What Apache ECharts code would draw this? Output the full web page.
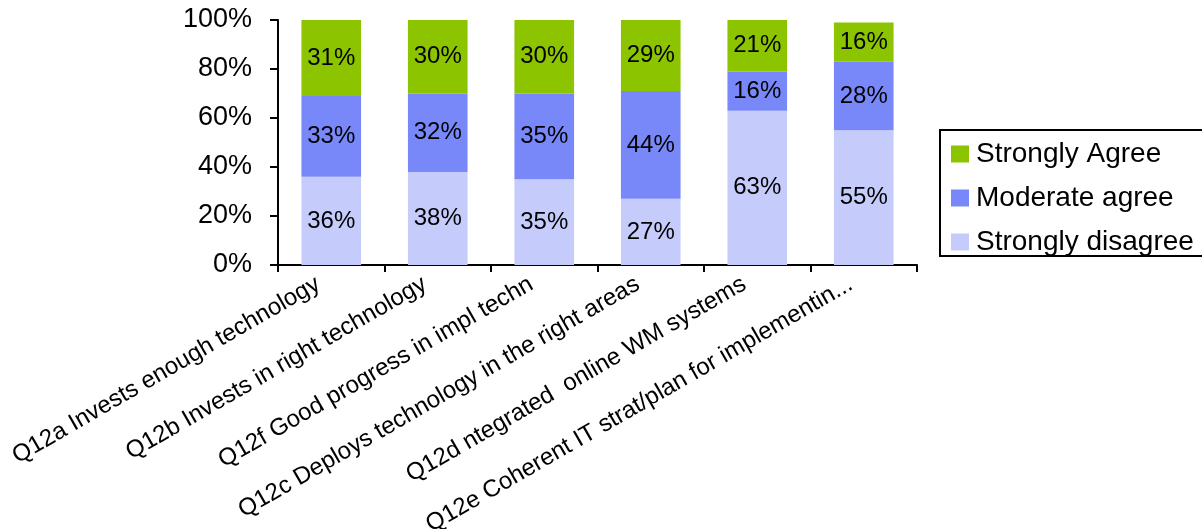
<!DOCTYPE html>
<html>
<head>
<meta charset="utf-8">
<script src="https://cdn.jsdelivr.net/npm/echarts@6/dist/echarts.min.js"></script>
<style>
  html, body { margin: 0; padding: 0; background: #fff; }
  #main { width: 1202px; height: 529px; }
</style>
</head>
<body>
<div id="main"></div>
<script>
var categories = [
  'Q12a Invests enough technology',
  'Q12b Invests in right technology',
  'Q12f Good progress in impl techn',
  'Q12c Deploys technology in the right areas',
  'Q12d ntegrated  online WM systems',
  'Q12e Coherent IT strat/plan for implementin...'
];
var disagree = [36, 38, 35, 27, 63, 55];
var moderate = [33, 32, 35, 44, 16, 28];
var agree = [31, 30, 30, 29, 21, 16];
var yTicks = [0, 20, 40, 60, 80, 100];

var chart = echarts.init(document.getElementById('main'));
var font = 'Liberation Sans, Arial, sans-serif';

function bar(name, data, color) {
  return {
    name: name,
    type: 'bar',
    stack: 'total',
    barWidth: '56%',
    data: data,
    itemStyle: { color: color },
    label: {
      show: true,
      position: 'inside',
      formatter: '{c}%',
      color: '#000',
      fontSize: 24,
      fontFamily: font
    }
  };
}

chart.setOption({
  animation: false,
  textStyle: { fontFamily: font },
  grid: { left: 278, right: 285, top: 20, bottom: 264, outerBoundsMode: 'none' },
  // legend frame runs off the right edge like the original
  graphic: [{
    type: 'rect',
    shape: { x: 940, y: 130, width: 320, height: 126 },
    style: { fill: 'none', stroke: '#000', lineWidth: 2 },
    silent: true
  }],
  legend: {
    left: 951,
    top: 140,
    orient: 'vertical',
    icon: 'rect',
    data: ['Strongly Agree', 'Moderate agree', 'Strongly disagree'],
    itemWidth: 18,
    itemHeight: 17,
    itemGap: 16,
    padding: 0,
    textStyle: { fontSize: 28, color: '#000', fontFamily: font, padding: [0, 0, 0, 2] }
  },
  xAxis: {
    type: 'category',
    data: categories,
    axisLine: { lineStyle: { color: '#000', width: 2 } },
    axisTick: { show: true, length: 7, lineStyle: { color: '#000', width: 2 } },
    axisLabel: {
      interval: 0,
      rotate: 30,
      margin: 10,
      padding: [0, 15, 0, 0],
      fontSize: 24,
      color: '#000',
      fontFamily: font
    }
  },
  yAxis: {
    type: 'value',
    min: yTicks[0],
    max: yTicks[yTicks.length - 1],
    interval: 20,
    axisLine: { show: true, lineStyle: { color: '#000', width: 2 } },
    axisTick: { show: true, length: 8, lineStyle: { color: '#000', width: 2 } },
    splitLine: { show: false },
    axisLabel: {
      formatter: '{value}%',
      fontSize: 27,
      margin: 26,
      color: '#000',
      fontFamily: font
    }
  },
  series: [
    bar('Strongly disagree', disagree, '#c5cbfb'),
    bar('Moderate agree', moderate, '#7888f8'),
    bar('Strongly Agree', agree, '#8cc400')
  ]
});
</script>
</body>
</html>
